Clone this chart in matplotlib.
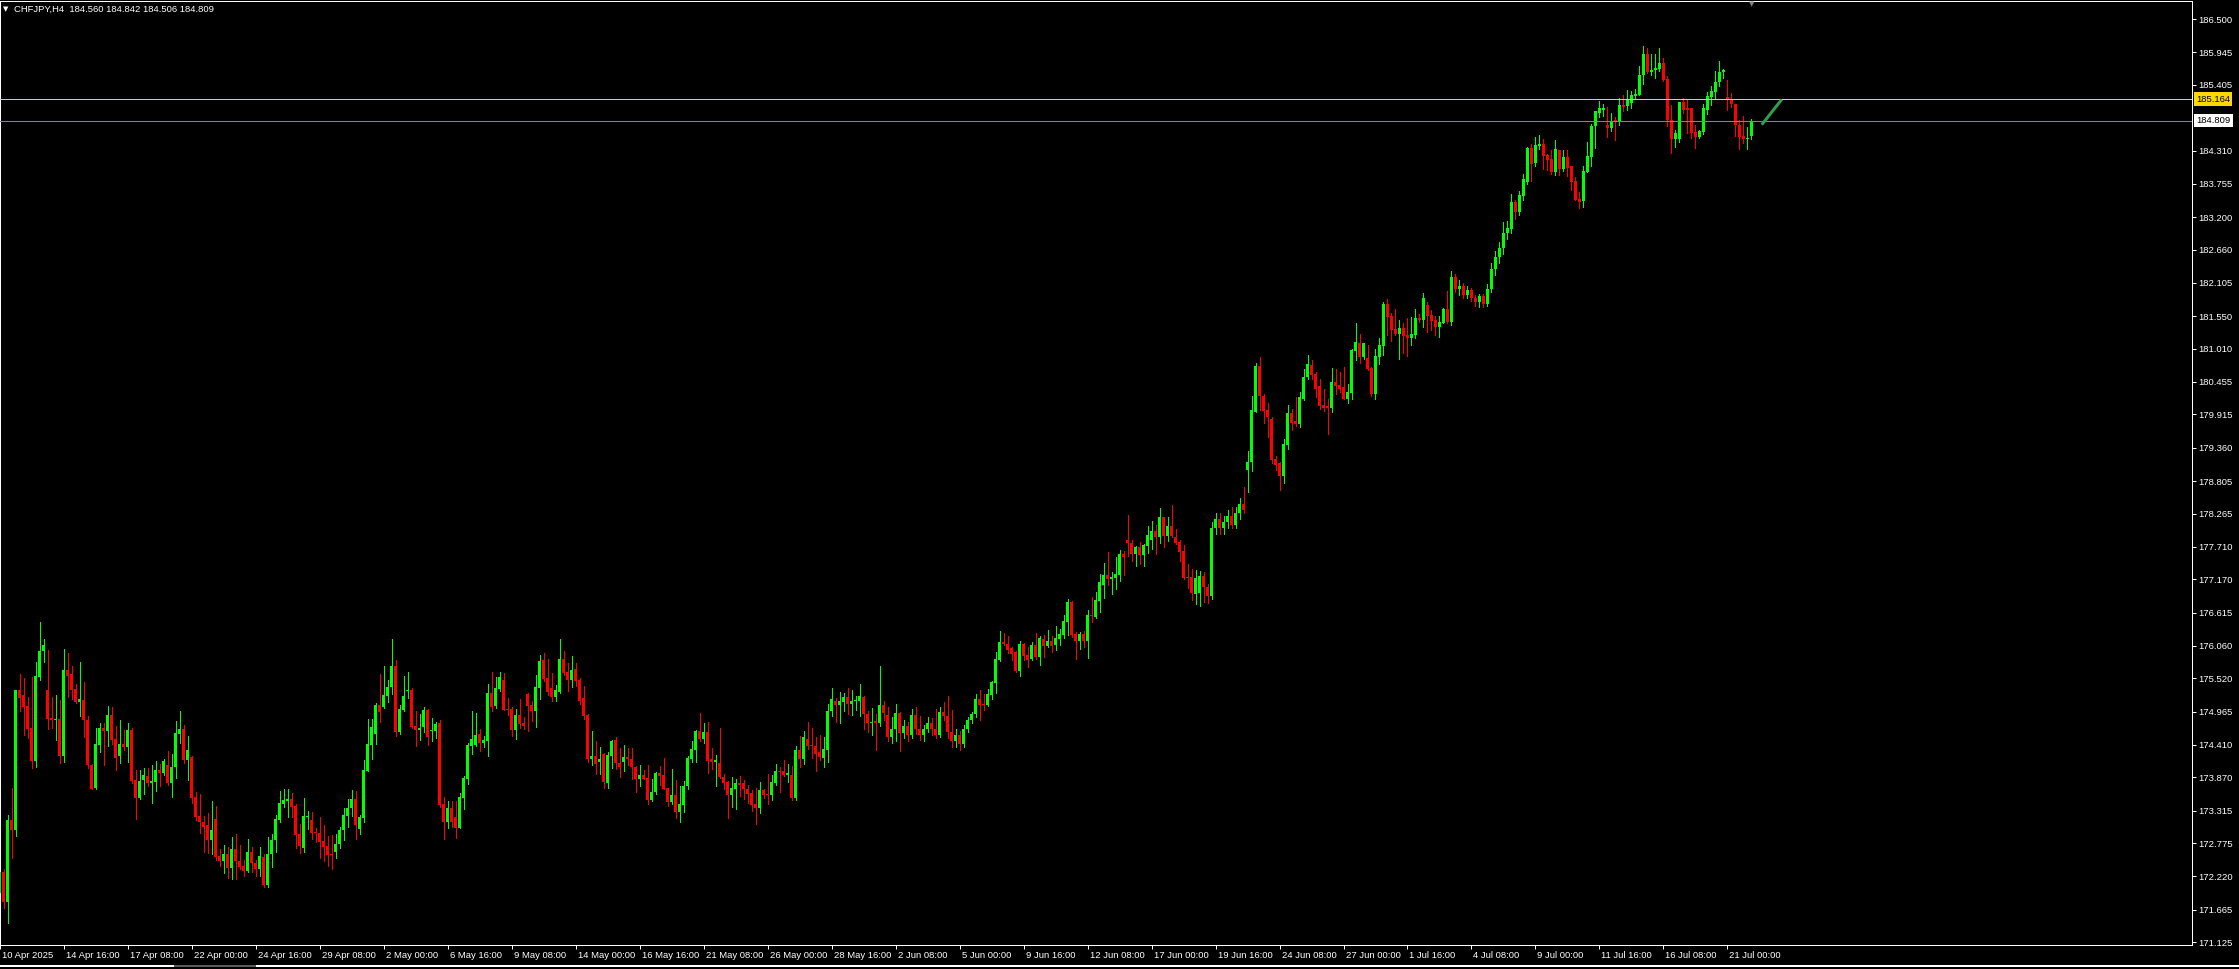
import matplotlib
matplotlib.use("Agg")
import matplotlib.pyplot as plt
from matplotlib import transforms
from matplotlib.lines import Line2D

# CHFJPY H4 - velas (10 Apr 2025 00:00 -> 22 Jul 2025 00:00)
opens = [
    171.94, 172.30, 171.79, 173.16, 172.99, 175.32, 175.24, 175.06, 174.69, 174.14,
    175.55, 175.97, 175.32, 174.86, 174.82, 174.85, 174.23, 175.66, 175.59, 175.34,
    175.12, 175.16, 174.83, 174.08, 173.70, 174.41, 174.69, 174.65, 174.91, 174.51,
    174.23, 174.42, 174.38, 174.66, 173.83, 173.53, 173.83, 173.90, 173.78, 173.80,
    174.00, 173.95, 174.08, 173.78, 174.04, 174.59, 174.68, 174.16, 174.21, 173.54,
    173.22, 173.13, 173.07, 172.82, 173.17, 172.56, 172.47, 172.59, 172.36, 172.68,
    172.48, 172.40, 172.31, 172.62, 172.44, 172.34, 172.55, 172.07, 172.59, 172.83,
    173.16, 173.43, 173.48, 173.51, 173.39, 172.93, 172.70, 173.21, 173.16, 172.95,
    172.94, 172.81, 172.73, 172.59, 172.62, 172.76, 172.99, 173.23, 173.36, 173.51,
    173.01, 173.19, 173.98, 174.41, 174.59, 175.08, 175.04, 175.23, 175.37, 175.73,
    174.62, 175.00, 175.31, 175.32, 174.73, 174.66, 174.71, 175.00, 174.64, 174.64,
    174.78, 173.43, 173.12, 173.36, 173.21, 173.03, 173.53, 173.85, 174.39, 174.41,
    174.59, 174.44, 174.48, 175.27, 175.06, 175.34, 175.49, 175.01, 175.01, 174.66,
    174.91, 174.78, 175.26, 175.08, 174.98, 175.36, 175.83, 175.52, 175.36, 175.21,
    175.29, 175.84, 175.63, 175.49, 175.68, 175.49, 175.19, 174.91, 174.17, 174.22,
    174.12, 174.26, 173.78, 174.22, 174.49, 174.11, 174.12, 174.21, 174.17, 174.05,
    173.85, 173.91, 173.86, 173.50, 173.62, 173.95, 173.91, 173.69, 173.46, 173.58,
    173.30, 173.41, 173.72, 174.18, 174.33, 174.64, 174.51, 174.63, 174.17, 174.13,
    174.11, 173.88, 173.80, 173.57, 173.67, 173.78, 173.78, 173.68, 173.61, 173.43,
    173.36, 173.66, 173.60, 173.57, 173.78, 173.98, 173.98, 173.91, 173.91, 173.53,
    174.32, 174.18, 174.51, 174.41, 174.39, 174.29, 174.19, 174.33, 174.97, 175.15,
    175.07, 175.13, 175.21, 175.09, 175.14, 175.14, 175.21, 174.93, 174.77, 174.81,
    174.77, 175.08, 174.91, 174.55, 174.67, 174.95, 174.61, 174.72, 174.57, 174.91,
    174.67, 174.57, 174.67, 174.77, 174.67, 174.57, 174.96, 174.90, 174.62, 174.47,
    174.57, 174.42, 174.67, 174.82, 174.93, 175.17, 175.10, 175.08, 175.24, 175.44,
    175.83, 176.12, 176.10, 176.03, 175.96, 175.64, 176.10, 175.91, 175.84, 176.08,
    175.88, 176.17, 176.06, 176.15, 176.08, 176.17, 176.24, 176.46, 176.79, 176.26,
    176.14, 176.26, 176.15, 176.58, 176.54, 176.81, 177.08, 177.24, 177.17, 177.19,
    177.24, 177.59, 177.83, 177.78, 177.59, 177.71, 177.57, 177.73, 177.83, 177.98,
    177.88, 178.20, 177.89, 178.06, 177.88, 177.79, 177.64, 177.20, 177.20, 176.93,
    176.94, 177.22, 177.04, 176.89, 178.03, 178.18, 178.03, 178.13, 178.23, 178.08,
    178.28, 178.43, 178.99, 179.12, 179.96, 180.72, 180.23, 179.99, 179.84, 179.17,
    179.10, 178.89, 179.40, 179.94, 179.81, 179.76, 180.18, 180.54, 180.74, 180.59,
    180.39, 180.07, 180.05, 180.02, 180.45, 180.40, 180.37, 180.18, 180.27, 180.97,
    181.10, 180.87, 180.86, 180.69, 180.25, 180.87, 181.05, 181.76, 181.55, 181.34,
    181.25, 181.35, 181.23, 181.18, 181.23, 181.52, 181.49, 181.74, 181.57, 181.49,
    181.37, 181.44, 181.67, 181.45, 182.20, 182.00, 182.05, 181.90, 181.98, 181.85,
    181.78, 181.88, 181.75, 182.00, 182.34, 182.54, 182.69, 182.94, 183.01, 183.45,
    183.29, 183.55, 183.79, 184.35, 184.10, 184.38, 184.42, 184.23, 184.17, 183.95,
    184.32, 184.01, 184.20, 184.05, 183.81, 183.50, 183.47, 183.96, 184.21, 184.71,
    184.94, 184.98, 184.74, 184.69, 184.82, 184.79, 185.06, 185.05, 185.10, 185.22,
    185.24, 185.56, 185.91, 185.62, 185.65, 185.67, 185.76, 185.50, 184.82, 184.50,
    184.50, 185.11, 185.01, 185.01, 184.62, 184.54, 184.62, 184.99, 185.20, 185.28,
    185.45, 185.61, 185.20, 185.16, 185.08, 184.74, 184.55, 184.50, 184.560,
]
highs = [
    172.38, 172.35, 173.24, 173.69, 175.33, 175.59, 175.52, 175.21, 175.54, 175.79,
    176.45, 176.18, 176.00, 175.21, 175.24, 175.16, 176.01, 175.94, 175.73, 175.42,
    175.79, 175.46, 174.90, 174.10, 174.69, 174.78, 174.77, 175.06, 175.04, 174.72,
    174.83, 174.66, 174.77, 174.69, 174.00, 174.00, 174.03, 174.03, 174.08, 174.14,
    174.10, 174.18, 174.31, 174.26, 174.81, 174.98, 174.74, 174.56, 174.22, 173.62,
    173.59, 173.22, 173.27, 173.48, 173.39, 172.67, 172.75, 172.71, 172.87, 172.92,
    172.75, 172.50, 172.85, 172.71, 172.50, 172.71, 172.59, 172.87, 172.92, 173.24,
    173.64, 173.67, 173.68, 173.61, 173.43, 173.10, 173.52, 173.31, 173.29, 173.03,
    173.21, 173.07, 172.90, 172.91, 172.93, 173.05, 173.36, 173.51, 173.66, 173.64,
    173.25, 174.16, 174.85, 174.85, 175.11, 175.59, 175.73, 175.49, 176.17, 175.83,
    175.08, 175.56, 175.63, 175.36, 174.98, 174.93, 175.04, 175.01, 174.86, 174.79,
    174.83, 173.54, 173.48, 173.48, 173.48, 173.61, 173.90, 174.44, 174.98, 174.95,
    174.68, 174.56, 175.42, 175.63, 175.54, 175.63, 175.61, 175.19, 175.05, 175.01,
    175.17, 174.88, 175.27, 175.14, 175.58, 175.91, 175.95, 175.84, 175.61, 175.41,
    176.17, 175.98, 175.78, 175.89, 175.78, 175.52, 175.39, 174.93, 174.64, 174.48,
    174.37, 174.27, 174.30, 174.49, 174.55, 174.36, 174.41, 174.36, 174.36, 174.06,
    174.08, 173.99, 174.08, 173.85, 173.96, 174.06, 174.19, 173.70, 174.01, 173.83,
    173.72, 173.81, 174.23, 174.48, 174.66, 174.95, 174.78, 174.79, 174.36, 174.24,
    174.70, 173.93, 173.81, 173.88, 173.85, 173.90, 173.82, 173.75, 173.66, 173.69,
    173.79, 173.67, 173.93, 173.91, 174.10, 174.05, 174.16, 174.10, 174.06, 174.39,
    174.56, 174.64, 174.79, 174.69, 174.55, 174.58, 174.55, 175.09, 175.36, 175.19,
    175.29, 175.27, 175.36, 175.33, 175.22, 175.42, 175.22, 174.98, 175.03, 174.93,
    175.73, 175.15, 175.05, 174.88, 175.10, 174.96, 174.82, 174.80, 175.01, 175.04,
    174.90, 174.74, 174.87, 174.86, 175.01, 175.04, 175.12, 175.22, 175.00, 174.67,
    174.64, 174.74, 174.87, 174.96, 175.26, 175.32, 175.26, 175.35, 175.48, 175.96,
    176.31, 176.27, 176.22, 176.04, 175.98, 176.14, 176.11, 176.05, 176.12, 176.27,
    176.22, 176.24, 176.32, 176.22, 176.39, 176.34, 176.58, 176.84, 176.81, 176.29,
    176.29, 176.31, 176.66, 176.88, 176.96, 177.25, 177.44, 177.62, 177.29, 177.54,
    177.66, 177.64, 178.24, 177.83, 177.73, 177.79, 177.76, 178.06, 178.14, 178.08,
    178.35, 178.21, 178.20, 178.40, 178.01, 177.83, 177.74, 177.42, 177.34, 177.32,
    177.30, 177.29, 177.09, 178.13, 178.28, 178.28, 178.23, 178.33, 178.38, 178.38,
    178.53, 178.71, 179.30, 180.22, 180.77, 180.87, 180.25, 180.10, 179.88, 179.22,
    179.13, 179.50, 180.07, 180.01, 180.20, 180.29, 180.67, 180.91, 180.82, 180.62,
    180.50, 180.34, 180.18, 180.69, 180.67, 180.62, 180.71, 180.42, 181.00, 181.44,
    181.25, 181.11, 181.07, 180.70, 181.01, 181.18, 181.79, 181.84, 181.60, 181.67,
    181.49, 181.44, 181.52, 181.54, 181.67, 181.59, 181.94, 181.79, 181.65, 181.55,
    181.55, 181.68, 181.97, 182.30, 182.25, 182.15, 182.10, 182.05, 182.02, 181.90,
    181.92, 181.92, 182.08, 182.44, 182.64, 182.79, 183.12, 183.13, 183.59, 183.49,
    183.63, 183.92, 184.37, 184.42, 184.54, 184.57, 184.50, 184.25, 184.32, 184.49,
    184.32, 184.32, 184.32, 184.05, 183.87, 183.62, 184.05, 184.45, 184.75, 184.97,
    185.13, 185.08, 185.03, 184.94, 184.86, 185.18, 185.23, 185.32, 185.30, 185.33,
    185.72, 186.05, 186.01, 185.91, 185.91, 186.01, 185.85, 185.55, 185.07, 184.65,
    185.11, 185.18, 185.16, 185.01, 184.74, 184.65, 185.08, 185.28, 185.38, 185.64,
    185.80, 185.67, 185.48, 185.27, 185.08, 184.82, 184.89, 184.70, 184.842,
]
lows = [
    171.75, 171.69, 171.45, 172.53, 172.89, 174.97, 174.58, 174.52, 174.03, 174.05,
    175.50, 175.80, 174.67, 174.69, 174.49, 174.11, 174.13, 175.21, 175.18, 175.11,
    174.90, 174.55, 174.03, 173.67, 173.68, 174.30, 174.07, 174.40, 174.42, 174.00,
    174.11, 174.32, 174.12, 173.78, 173.17, 173.51, 173.59, 173.72, 173.45, 173.65,
    173.72, 173.91, 173.74, 173.55, 173.86, 174.45, 174.11, 173.83, 173.44, 173.16,
    172.94, 172.63, 172.61, 172.59, 172.49, 172.39, 172.27, 172.19, 172.17, 172.17,
    172.34, 172.23, 172.30, 172.30, 172.22, 172.22, 172.05, 172.04, 172.38, 172.63,
    173.13, 173.38, 173.21, 173.21, 172.70, 172.61, 172.63, 173.01, 172.85, 172.79,
    172.53, 172.48, 172.39, 172.34, 172.53, 172.70, 172.83, 173.05, 173.23, 172.85,
    172.93, 173.12, 173.97, 174.18, 174.42, 174.80, 175.03, 175.12, 175.26, 174.56,
    174.59, 174.98, 175.19, 174.70, 174.39, 174.49, 174.63, 174.41, 174.48, 174.53,
    173.37, 172.85, 173.02, 173.05, 172.86, 173.02, 173.34, 173.76, 174.26, 174.39,
    174.31, 174.37, 174.22, 174.98, 175.02, 175.31, 174.99, 174.91, 174.56, 174.51,
    174.69, 174.68, 174.64, 174.81, 174.71, 175.17, 175.47, 175.24, 175.14, 175.15,
    175.28, 175.58, 175.31, 175.37, 175.39, 175.10, 174.85, 174.12, 174.08, 173.93,
    173.93, 173.70, 173.69, 174.03, 174.01, 173.87, 173.97, 174.07, 173.84, 173.63,
    173.72, 173.84, 173.43, 173.48, 173.59, 173.75, 173.67, 173.40, 173.43, 173.20,
    173.12, 173.30, 173.68, 174.12, 174.13, 174.48, 174.44, 173.95, 174.01, 173.72,
    173.86, 173.67, 173.20, 173.38, 173.35, 173.56, 173.51, 173.45, 173.31, 173.09,
    173.28, 173.53, 173.43, 173.49, 173.75, 173.63, 173.89, 173.80, 173.49, 173.49,
    174.05, 174.10, 174.35, 174.19, 173.97, 174.16, 174.05, 174.13, 174.90, 174.80,
    174.77, 174.97, 174.93, 174.91, 175.00, 174.90, 174.68, 174.63, 174.58, 174.33,
    174.73, 174.83, 174.48, 174.45, 174.48, 174.31, 174.52, 174.47, 174.52, 174.60,
    174.50, 174.47, 174.62, 174.57, 174.52, 174.54, 174.82, 174.52, 174.37, 174.37,
    174.32, 174.37, 174.62, 174.77, 174.87, 174.83, 175.00, 175.06, 175.17, 175.27,
    175.81, 176.08, 175.95, 175.83, 175.63, 175.56, 175.83, 175.71, 175.83, 175.84,
    175.74, 175.88, 176.05, 175.96, 176.00, 176.08, 176.19, 176.24, 176.20, 175.84,
    176.01, 176.05, 175.86, 176.46, 176.53, 176.63, 176.86, 177.08, 176.93, 177.01,
    177.14, 177.24, 177.56, 177.47, 177.39, 177.42, 177.39, 177.61, 177.68, 177.59,
    177.78, 177.71, 177.81, 177.88, 177.76, 177.47, 177.17, 177.03, 176.83, 176.76,
    176.73, 176.79, 176.77, 176.84, 177.93, 177.93, 177.93, 178.03, 178.03, 178.03,
    178.18, 178.28, 178.63, 178.97, 179.95, 179.99, 179.78, 179.54, 179.10, 178.99,
    178.66, 178.78, 179.34, 179.66, 179.72, 179.71, 180.15, 180.50, 180.50, 180.20,
    180.01, 179.98, 179.59, 179.96, 180.25, 180.29, 180.17, 180.10, 180.17, 180.82,
    180.77, 180.84, 180.66, 180.22, 180.17, 180.76, 180.91, 181.23, 181.13, 181.23,
    180.84, 180.93, 180.89, 181.07, 181.18, 181.45, 181.37, 181.28, 181.32, 181.23,
    181.20, 181.43, 181.44, 181.40, 181.95, 181.90, 181.85, 181.85, 181.80, 181.72,
    181.70, 181.70, 181.72, 181.95, 182.24, 182.44, 182.59, 182.84, 182.94, 183.17,
    183.23, 183.49, 183.75, 183.81, 184.05, 184.33, 184.01, 183.99, 183.92, 183.90,
    183.91, 183.97, 183.88, 183.65, 183.48, 183.36, 183.37, 183.95, 184.05, 184.35,
    184.87, 184.88, 184.54, 184.64, 184.49, 184.73, 184.97, 184.99, 185.01, 185.18,
    185.23, 185.42, 185.60, 185.57, 185.51, 185.64, 185.46, 184.71, 184.27, 184.37,
    184.45, 184.94, 184.61, 184.52, 184.36, 184.52, 184.59, 184.91, 185.06, 185.16,
    185.38, 185.52, 184.99, 185.03, 184.55, 184.33, 184.44, 184.33, 184.506,
]
closes = [
    172.30, 171.79, 173.16, 172.99, 175.32, 175.19, 175.05, 174.67, 174.14, 175.56,
    175.98, 176.08, 174.84, 174.82, 174.85, 174.23, 175.66, 175.56, 175.33, 175.13,
    175.17, 174.82, 174.07, 173.68, 174.42, 174.69, 174.65, 174.91, 174.49, 174.20,
    174.42, 174.37, 174.66, 173.81, 173.53, 173.81, 173.91, 173.78, 173.81, 174.00,
    173.95, 174.14, 173.78, 174.05, 174.61, 174.68, 174.16, 174.32, 173.53, 173.21,
    173.12, 173.04, 172.82, 173.00, 172.55, 172.47, 172.59, 172.36, 172.68, 172.48,
    172.38, 172.31, 172.62, 172.44, 172.34, 172.56, 172.07, 172.59, 172.83, 173.17,
    173.44, 173.49, 173.51, 173.38, 172.91, 172.72, 173.22, 173.22, 172.94, 172.94,
    172.80, 172.71, 172.58, 172.57, 172.76, 173.00, 173.24, 173.36, 173.51, 173.07,
    173.21, 174.00, 174.42, 174.71, 175.08, 174.96, 175.24, 175.37, 175.73, 174.63,
    175.01, 175.22, 175.32, 174.71, 174.66, 174.70, 175.00, 174.54, 174.66, 174.76,
    173.41, 173.12, 173.36, 173.12, 173.03, 173.54, 173.86, 174.41, 174.51, 174.58,
    174.44, 174.49, 175.27, 175.05, 175.36, 175.54, 175.00, 175.00, 174.66, 174.91,
    174.76, 174.73, 175.06, 174.98, 175.37, 175.81, 175.51, 175.29, 175.21, 175.32,
    175.84, 175.61, 175.49, 175.66, 175.47, 175.15, 174.90, 174.17, 174.22, 174.10,
    174.17, 173.80, 174.24, 174.48, 174.11, 174.05, 174.21, 174.17, 174.04, 173.85,
    173.91, 173.85, 173.50, 173.63, 173.95, 173.90, 173.68, 173.46, 173.58, 173.30,
    173.43, 173.73, 174.19, 174.34, 174.64, 174.51, 174.63, 174.14, 174.13, 174.16,
    173.87, 173.77, 173.57, 173.69, 173.78, 173.75, 173.67, 173.60, 173.41, 173.36,
    173.66, 173.57, 173.57, 173.79, 173.98, 173.96, 173.91, 173.95, 173.53, 174.32,
    174.18, 174.54, 174.39, 174.39, 174.26, 174.21, 174.34, 174.98, 175.17, 175.07,
    175.14, 175.21, 175.09, 175.15, 175.16, 175.22, 174.92, 174.77, 174.79, 174.77,
    175.08, 174.95, 174.55, 174.68, 174.95, 174.61, 174.72, 174.57, 174.91, 174.67,
    174.57, 174.67, 174.77, 174.67, 174.57, 174.96, 174.90, 174.62, 174.47, 174.57,
    174.42, 174.67, 174.82, 174.93, 175.17, 175.08, 175.08, 175.26, 175.46, 175.84,
    176.12, 176.10, 176.00, 175.93, 175.64, 176.10, 175.90, 175.83, 176.08, 175.88,
    176.19, 176.06, 176.15, 176.06, 176.19, 176.26, 176.47, 176.79, 176.24, 176.14,
    176.26, 176.15, 176.58, 176.55, 176.83, 177.12, 177.24, 177.17, 177.20, 177.25,
    177.59, 177.54, 177.78, 177.59, 177.71, 177.57, 177.74, 177.91, 177.98, 177.88,
    178.20, 177.89, 178.06, 177.89, 177.78, 177.62, 177.19, 177.19, 176.94, 177.19,
    177.22, 177.04, 176.89, 178.03, 178.18, 178.03, 178.13, 178.23, 178.08, 178.28,
    178.43, 178.33, 179.13, 179.99, 180.72, 180.22, 179.98, 179.88, 179.15, 179.08,
    178.89, 179.42, 179.94, 179.77, 179.76, 180.20, 180.54, 180.76, 180.57, 180.34,
    180.06, 180.03, 180.02, 180.45, 180.39, 180.34, 180.18, 180.29, 180.99, 181.12,
    180.87, 181.10, 180.67, 180.25, 180.89, 181.07, 181.76, 181.54, 181.32, 181.25,
    181.35, 181.22, 181.19, 181.25, 181.52, 181.49, 181.86, 181.55, 181.47, 181.37,
    181.45, 181.67, 181.45, 182.20, 182.00, 182.05, 181.90, 181.98, 181.85, 181.78,
    181.88, 181.75, 182.00, 182.34, 182.54, 182.69, 182.94, 183.02, 183.45, 183.29,
    183.57, 183.84, 184.35, 184.09, 184.40, 184.42, 184.22, 184.15, 183.96, 184.33,
    184.01, 184.20, 184.02, 183.79, 183.49, 183.45, 183.97, 184.22, 184.72, 184.96,
    185.01, 185.01, 184.69, 184.80, 184.80, 185.06, 185.03, 185.16, 185.23, 185.25,
    185.57, 185.91, 185.62, 185.65, 185.69, 185.77, 185.49, 184.81, 184.50, 184.60,
    185.11, 184.99, 184.99, 184.60, 184.54, 184.64, 185.01, 185.22, 185.30, 185.45,
    185.62, 185.65, 185.16, 185.08, 184.73, 184.53, 184.51, 184.52, 184.809,
]

time_labels = [
    "10 Apr 2025", "14 Apr 16:00", "17 Apr 08:00", "22 Apr 00:00", "24 Apr 16:00",
    "29 Apr 08:00", "2 May 00:00", "6 May 16:00", "9 May 08:00", "14 May 00:00",
    "16 May 16:00", "21 May 08:00", "26 May 00:00", "28 May 16:00", "2 Jun 08:00",
    "5 Jun 00:00", "9 Jun 16:00", "12 Jun 08:00", "17 Jun 00:00", "19 Jun 16:00",
    "24 Jun 08:00", "27 Jun 00:00", "1 Jul 16:00", "4 Jul 08:00", "9 Jul 00:00",
    "11 Jul 16:00", "16 Jul 08:00", "21 Jul 00:00",
]
bars_between_labels = 16

price_ticks = [
    186.500, 185.945, 185.405, 184.310, 183.755, 183.200, 182.660, 182.105,
    181.550, 181.010, 180.455, 179.915, 179.360, 178.805, 178.265, 177.710,
    177.170, 176.615, 176.060, 175.520, 174.965, 174.410, 173.870, 173.315,
    172.775, 172.220, 171.665, 171.125,
]
ask_price = 185.164
bid_price = 184.809
header_text = "CHFJPY,H4  184.560 184.842 184.506 184.809"

# segmento verde dibujado a la derecha de la ultima vela (vela, precio)
trend_bars = [440.6, 445.6]
trend_prices = [184.74, 185.16]

assert len(opens) == len(highs) == len(lows) == len(closes)

plt.rcParams["font.family"] = ["Liberation Sans", "DejaVu Sans"]

W, H = 2239, 969
PX = 72 / 100  # un pixel en puntos
fig = plt.figure(figsize=(W / 100, H / 100), dpi=100, facecolor="black")
ax = fig.add_axes([0, 24 / H, 2192 / W, 944 / H])
ax.set_facecolor("black")

n = len(closes)
xs = list(range(n))
up = [c >= o for o, c in zip(opens, closes)]
colors = ["#00FF00" if u else "#FF0000" for u in up]

# mechas
ax.vlines(xs, lows, highs, colors=colors, linewidth=PX, antialiased=False, zorder=2)

# cuerpos
bottoms = [min(o, c) for o, c in zip(opens, closes)]
heights = [max(abs(c - o), 0.017) for o, c in zip(opens, closes)]
ax.bar(xs, heights, bottom=bottoms, width=0.75, color=colors, linewidth=0,
       antialiased=False, zorder=3)

# lineas ask / bid
ax.axhline(ask_price, color="#FFD700", linewidth=PX, zorder=4)
ax.axhline(bid_price, color="#778899", linewidth=PX, zorder=4)

ax.plot(trend_bars, trend_prices, color="#2E9E50", linewidth=3 * PX, zorder=4,
        solid_capstyle="butt")

ax.set_xlim(0.2, 548.2)
ax.set_ylim(171.079, 186.80)

for side in ["left", "right", "top", "bottom"]:
    ax.spines[side].set_color("white")
    ax.spines[side].set_linewidth(PX)

# eje de precios a la derecha
ax.yaxis.tick_right()
ax.set_yticks(price_ticks)
ax.set_yticklabels([f"{p:.3f}" for p in price_ticks])
ax.tick_params(axis="y", colors="white", length=4 * PX, width=PX, pad=2 * PX,
               labelsize=6.8)

# eje de tiempo
label_pos = [k * bars_between_labels for k in range(len(time_labels))]
ax.set_xticks(label_pos)
ax.set_xticklabels(time_labels, ha="left")
ax.tick_params(axis="x", colors="white", length=4 * PX, width=PX, pad=2 * PX,
               labelsize=6.8)
shift = transforms.ScaledTranslation(2 / 100, 0, fig.dpi_scale_trans)
for lab in ax.get_xticklabels():
    lab.set_transform(lab.get_transform() + shift)

# etiquetas de precio ask / bid
for price, face in [(ask_price, "#FFD700"), (bid_price, "white")]:
    ax.annotate(f"{price:.3f}", xy=(1, price), xycoords=("axes fraction", "data"),
                xytext=(4 * PX, 0), textcoords="offset points", ha="left", va="center",
                fontsize=6.8, color="black", annotation_clip=False, zorder=6,
                bbox=dict(boxstyle="square,pad=0.25", fc=face, ec="none"))

# cabecera
fig.text(3 / W, 1 - 9 / H, "\u25BC", color="white", fontsize=5, va="center",
         family="DejaVu Sans")
fig.text(14 / W, 1 - 9 / H, header_text, color="white", fontsize=6.8, va="center")

# marcador de desplazamiento del grafico
fig.text(1752 / W, 1 - 4 / H, "\u25BC", color="#808080", fontsize=5, ha="center",
         va="center", family="DejaVu Sans")

# linea inferior de la ventana (pestanas)
y_line = 1 - 966 / H
fig.add_artist(Line2D([0, 175 / W], [y_line, y_line], color="white", linewidth=2 * PX,
                      transform=fig.transFigure))
fig.add_artist(Line2D([175 / W, 257 / W], [y_line, y_line], color="#5A5A5A",
                      linewidth=2 * PX, transform=fig.transFigure))
fig.add_artist(Line2D([257 / W, 1], [y_line, y_line], color="white", linewidth=2 * PX,
                      transform=fig.transFigure))

fig.savefig("out.png", dpi=100, facecolor="black")
plt.close(fig)
